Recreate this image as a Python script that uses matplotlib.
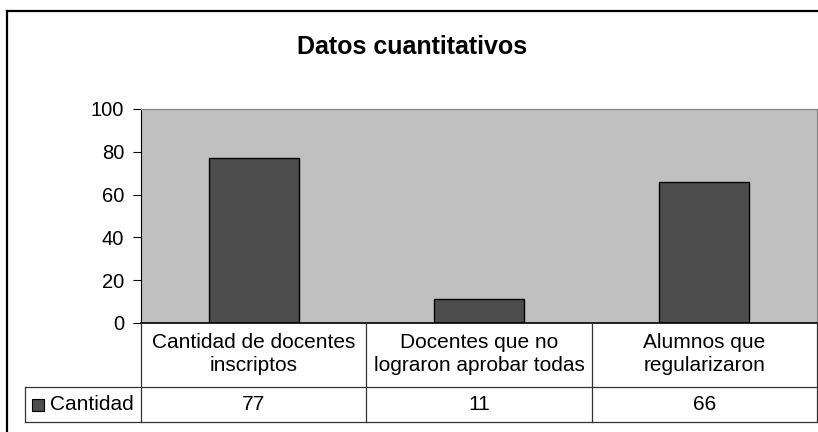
import matplotlib.pyplot as plt
from matplotlib.lines import Line2D
from matplotlib.patches import Rectangle

plt.rcParams['font.family'] = ['Liberation Sans', 'DejaVu Sans']

# data
categorias = ["Cantidad de docentes\ninscriptos",
              "Docentes que no\nlograron aprobar todas",
              "Alumnos que\nregularizaron"]
cantidad = [77, 11, 66]
serie = "Cantidad"
titulo = "Datos cuantitativos"
yticks = [0, 20, 40, 60, 80, 100]

W, H = 818, 432
fig = plt.figure(figsize=(W / 100, H / 100), dpi=100)


def px_box(x0, y0, x1, y1):
    # pixel box (top-left origin) -> figure fraction rect
    return [x0 / W, 1 - y1 / H, (x1 - x0) / W, (y1 - y0) / H]


# outer chart frame (runs off the right and bottom edge)
fig.add_artist(Line2D([7 / W, 7 / W], [0, 1 - 11 / H], color='black', lw=1.6))
fig.add_artist(Line2D([7 / W, 1], [1 - 11 / H, 1 - 11 / H], color='black', lw=1.6))

fig.text(412 / W, 1 - 47 / H, titulo, ha='center', va='center',
         fontsize=18, fontweight='bold')

# plot area
ax = fig.add_axes(px_box(141, 109, 817, 323))
ax.set_facecolor('#c0c0c0')
x = range(len(cantidad))
ax.bar(x, cantidad, width=0.4, color='#4d4d4d', edgecolor='black', linewidth=1)
ax.set_xlim(-0.5, len(cantidad) - 0.5)
ax.set_ylim(0, 100)
ax.set_yticks(yticks)
ax.tick_params(axis='y', direction='out', length=6, width=0.8, labelsize=14.5, pad=6)
ax.set_xticks([])
for s in ('top', 'right'):
    ax.spines[s].set_color('#808080')
ax.spines['left'].set_color('black')
ax.spines['bottom'].set_color('black')
ax.spines['bottom'].set_linewidth(1.2)

# data table below the plot area
tx0 = -0.5 - (141 - 25) / (676 / 3)
tab = fig.add_axes(px_box(25, 323, 817, 422))
tab.set_xlim(tx0, len(cantidad) - 0.5)
tab.set_ylim(99, 0)
tab.axis('off')
lc = '#333333'
for i in range(len(cantidad) + 1):
    tab.plot([i - 0.5, i - 0.5], [0, 99], color=lc, lw=0.9, clip_on=False)
tab.plot([tx0, tx0], [64, 99], color=lc, lw=0.9, clip_on=False)
tab.plot([tx0, len(cantidad) - 0.5], [64, 64], color=lc, lw=0.9, clip_on=False)
tab.plot([tx0, len(cantidad) - 0.5], [99, 99], color=lc, lw=0.9, clip_on=False)

for i, (cat, val) in enumerate(zip(categorias, cantidad)):
    tab.text(i, 31, cat, ha='center', va='center', fontsize=15, linespacing=1.25)
    tab.text(i, 81, str(val), ha='center', va='center', fontsize=15)

# legend key + series name
kx = tx0 + 7 / (676 / 3)
tab.add_patch(Rectangle((kx, 76), 12 / (676 / 3), 12, facecolor='#4d4d4d',
                        edgecolor='black', lw=0.8))
tab.text(kx + 18 / (676 / 3), 81, serie, ha='left', va='center', fontsize=15)

fig.savefig('out.png', dpi=100)
